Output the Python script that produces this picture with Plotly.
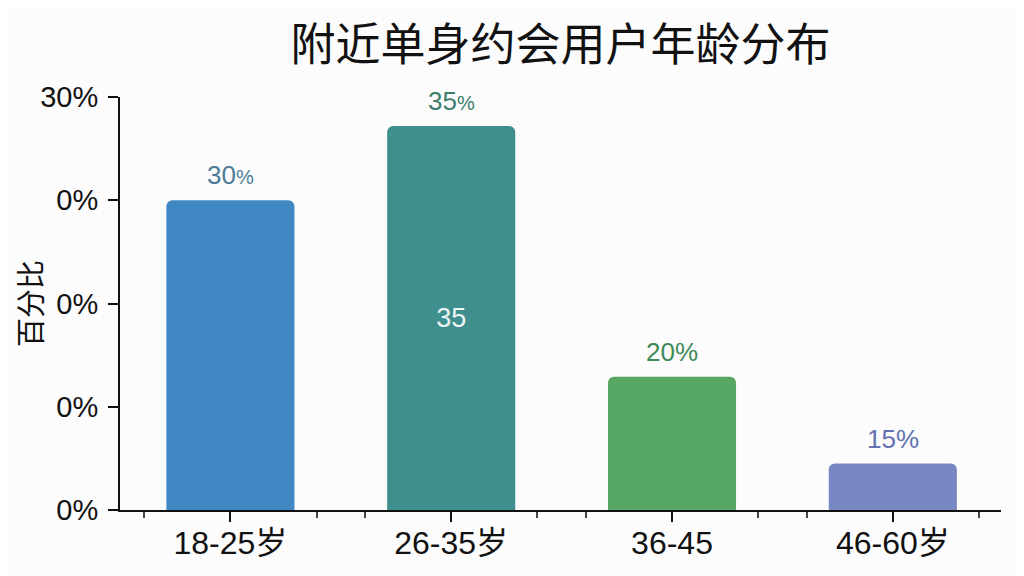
import plotly.graph_objects as go

# data
categories = ["18-25岁", "26-35岁", "36-45", "46-60岁"]
bar_heights = [30.0, 37.2, 12.9, 4.5]          # plotted height, in axis units
top_labels = ["30<span style='font-size:20px'>%</span>",
              "35<span style='font-size:20px'>%</span>",
              "20%", "15%"]
inner_labels = ["", "35", "", ""]
y_ticks = [0, 10, 20, 30, 40]
y_ticktext = ["0%", "0%", "0%", "0%", "30%"]

bar_colors = ["#4088c4", "#3f8f8e", "#56a664", "#7887c3"]
label_colors = ["#4a7b97", "#3c7d6c", "#3f8a56", "#6272b2"]

font_main = "Liberation Sans, Arial, Noto Sans CJK SC, sans-serif"
x_pos = list(range(len(categories)))

fig = go.Figure()
fig.add_trace(go.Bar(
    x=x_pos, y=bar_heights, width=0.58,
    marker=dict(color=bar_colors, line=dict(width=0), cornerradius=6),
    text=inner_labels, textposition="inside", insidetextanchor="middle",
    textfont=dict(size=27, color="#eef5f4", family=font_main),
    hoverinfo="skip", showlegend=False))

# value labels above the bars
for xi, h, lab, col in zip(x_pos, bar_heights, top_labels, label_colors):
    fig.add_annotation(x=xi, y=h, text=lab, showarrow=False,
                       yanchor="bottom", yshift=8,
                       font=dict(size=26, color=col, family=font_main))

minor_vals = [i + d for i in x_pos for d in (-0.39, 0.39)]

# the page body adds 8px, margins are set to land the plot where the reference has it
fig.update_layout(
    width=1024, height=576,
    margin=dict(l=105, r=31, t=89, b=74),
    paper_bgcolor="#fcfcfc", plot_bgcolor="#fcfcfc",
    font=dict(family=font_main, color="#111111"),
    title=dict(text="附近单身约会用户年龄分布", x=0.5, xanchor="center",
               xref="paper",
               y=1 - 37 / 576, yanchor="middle", yref="container",
               font=dict(size=45, color="#111111",
                         family="Noto Sans CJK SC, sans-serif")),
    xaxis=dict(range=[-0.5, 3.49], tickmode="array", tickvals=x_pos,
               ticktext=categories, showgrid=False, zeroline=False,
               showline=True, linecolor="#111111", linewidth=2,
               ticks="outside", ticklen=10, tickwidth=2, tickcolor="#111111",
               tickfont=dict(size=32, color="#111111"),
               ticklabelstandoff=-6,
               minor=dict(tickmode="array", tickvals=minor_vals,
                          ticks="outside", ticklen=6, tickwidth=1.5,
                          tickcolor="#444444", showgrid=False)),
    yaxis=dict(range=[0, 40], tickmode="array", tickvals=y_ticks,
               ticktext=y_ticktext, showgrid=False, zeroline=False,
               showline=True, linecolor="#111111", linewidth=2,
               ticks="outside", ticklen=10, tickwidth=2, tickcolor="#111111",
               tickfont=dict(size=29, color="#111111"),
               ticklabelstandoff=4,
               title=dict(text="百分比", standoff=0,
                          font=dict(size=29, color="#111111",
                                    family="Noto Sans CJK SC, sans-serif"))),
)

fig.write_html("out.html")
